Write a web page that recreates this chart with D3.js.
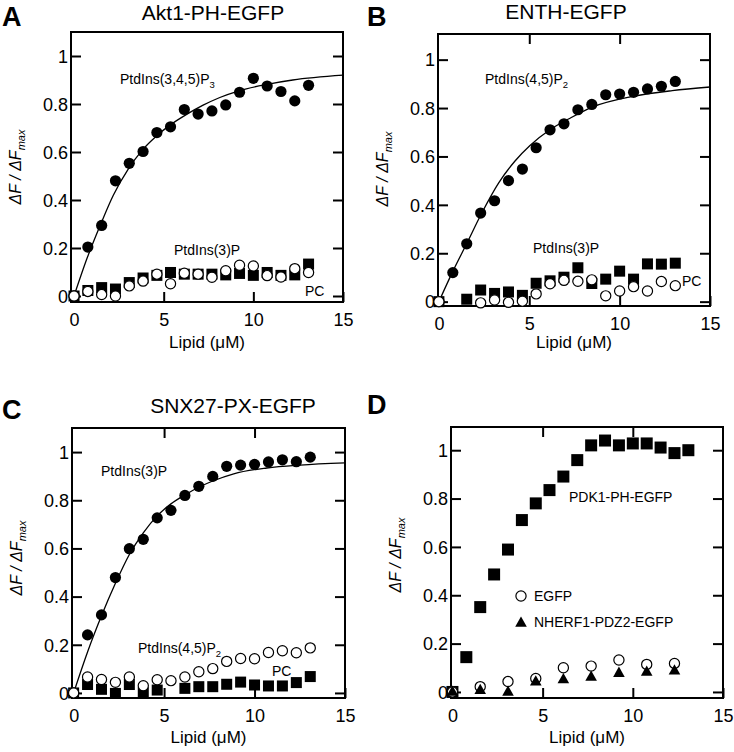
<!DOCTYPE html>
<html><head><meta charset="utf-8">
<script src="https://cdn.jsdelivr.net/npm/d3@7"></script>
<style>
body{margin:0;background:#fff}
svg{display:block}
text{font-family:"Liberation Sans",Arial,Helvetica,sans-serif;fill:#000}
</style>
</head><body>
<svg id="chart" width="734" height="752"></svg>
<script>
// ---------------- data ----------------
const lipidConc = [0,0.77,1.54,2.31,3.08,3.85,4.62,5.38,6.15,6.92,7.69,8.46,9.23,10.0,10.77,11.54,12.31,13.08];
const lipidConcSparse = [0,1.54,3.08,4.62,6.15,7.69,9.23,10.77,12.31];
const xTickValues = [0,5,10,15];
const xTickLabels = ["0","5","10","15"];
const yTickValues = [0,0.2,0.4,0.6,0.8,1];
const yTickLabels = ["0","0.2","0.4","0.6","0.8","1"];

// Panel A: Akt1-PH-EGFP
const aktPIP3 = [0,0.204,0.294,0.48,0.553,0.602,0.681,0.705,0.777,0.758,0.771,0.796,0.849,0.907,0.875,0.852,0.813,0.878];
const aktPI3P = [0,0.023,0.035,0.029,0.056,0.075,0.086,0.098,0.091,0.091,0.091,0.088,0.094,0.086,0.098,0.086,0.088,0.133];
const aktPC   = [0,0.019,0.006,0,0.042,0.062,0.091,0.051,0.095,0.091,0.078,0.105,0.128,0.125,0.085,0.079,0.114,0.098];
const aktFitX = [0,0.74,1.49,2.19,3.03,3.77,4.6,5.35,6.28,7.2,8.13,9.2,10.7,12.2,15];
const aktFitY = [0,0.16,0.3,0.42,0.53,0.605,0.667,0.712,0.757,0.795,0.827,0.855,0.881,0.9,0.92];

// Panel B: ENTH-EGFP
const enthPIP2 = [0,0.12,0.239,0.366,0.417,0.5,0.548,0.636,0.71,0.735,0.793,0.815,0.855,0.858,0.865,0.879,0.89,0.91];
const enthPI3P = [0,null,0.01,0.048,0.034,0.04,0.026,0.076,0.086,0.101,0.14,0.075,0.093,0.126,0.093,0.156,0.155,0.159];
const enthPC   = [0,null,null,-0.005,0.007,-0.003,0.002,0.032,0.074,0.088,0.084,0.09,0.024,0.044,0.062,0.044,0.083,0.066];
const enthFitX = [0,0.77,1.54,2.33,3.3,4.2,5.04,6.14,7.3,8.52,10.71,12.91,15];
const enthFitY = [0,0.125,0.24,0.36,0.49,0.58,0.645,0.71,0.76,0.805,0.848,0.872,0.887];

// Panel C: SNX27-PX-EGFP
const snxPI3P = [0,0.241,0.324,0.479,0.599,0.638,0.727,0.758,0.82,0.858,0.899,0.941,0.946,0.949,0.959,0.968,0.96,0.979];
const snxPIP2 = [0,0.066,0.056,0.044,0.066,0.03,0.055,0.051,0.066,0.088,0.101,0.131,0.143,0.142,0.168,0.175,0.167,0.187];
const snxPC   = [0,0.035,0.015,-0.002,0.035,0.001,0.012,null,0.019,0.026,0.026,0.036,0.045,0.033,0.029,0.029,0.043,0.068];
const snxFitX = [0,0.77,1.54,2.31,3.08,3.85,4.62,5.38,6.15,7.0,7.69,8.85,10.68,12.52,15];
const snxFitY = [0,0.17,0.32,0.455,0.575,0.665,0.735,0.785,0.822,0.857,0.88,0.91,0.934,0.946,0.955];

// Panel D: controls
const pdk1PH = [0,0.144,0.351,0.486,0.589,0.711,0.78,0.835,0.891,0.959,1.02,1.04,1.02,1.028,1.028,1.011,0.988,1.0];
const egfpOnly = [0,0.022,0.043,0.056,0.1,0.107,0.132,0.114,0.118];
const nherfPDZ2 = [0,0.007,0,0.042,0.052,0.062,0.078,0.083,0.088];

// ---------------- drawing ----------------
const svg = d3.select("#chart");
const FONT = '"Liberation Sans",Arial,Helvetica,sans-serif';

function zip(xs, ys){ return xs.map((x,i)=>({x:x,y:ys[i]})).filter(d=>d.y!==null && d.y!==undefined); }

function panel(p){
  const x = d3.scaleLinear().domain(p.xDomain).range([p.left,p.right]);
  const y = d3.scaleLinear().domain(p.yDomain).range([p.bottom,p.top]);
  const g = svg.append("g");

  // axes (inward ticks)
  const ax = g.append("g").attr("transform",`translate(0,${p.bottom})`)
    .call(d3.axisBottom(x).tickValues(xTickValues).tickSize(-10).tickFormat((d,i)=>xTickLabels[i]));
  ax.selectAll("text").attr("y",24).attr("dy",null).style("font-size","18px");
  const ay = g.append("g").attr("transform",`translate(${p.left},0)`)
    .call(d3.axisLeft(y).tickValues(yTickValues).tickSize(-10).tickPadding(3).tickFormat((d,i)=>yTickLabels[i]));
  ay.selectAll("text").attr("dy","0.35em").style("font-size","18px");
  g.append("g").attr("transform",`translate(${p.right},0)`)
    .call(d3.axisRight(y).tickValues(yTickValues).tickSize(-10).tickFormat(""));
  if (p.topTicks) {
    g.append("g").attr("transform",`translate(0,${p.top})`)
      .call(d3.axisTop(x).tickValues([5,10]).tickSize(-10).tickFormat(""));
  }
  g.selectAll(".domain").remove();
  g.selectAll(".tick line").attr("stroke","#000").attr("stroke-width",2);
  g.selectAll(".tick text").attr("fill","#000").style("font-family",FONT);

  // frame
  g.append("rect").attr("x",p.left).attr("y",p.top)
    .attr("width",p.right-p.left).attr("height",p.bottom-p.top)
    .attr("fill","none").attr("stroke","#000").attr("stroke-width",2);

  // axis titles
  g.append("text").attr("x",(p.left+p.right)/2).attr("y",p.xLabelY)
    .attr("text-anchor","middle").style("font-size","17px").text("Lipid (\u03BCM)");
  const yl = g.append("text").attr("transform",`translate(${p.yLabelX},${p.yLabelCY}) rotate(-90)`)
    .attr("text-anchor","middle").style("font-size","16px").style("font-style","italic");
  yl.append("tspan").text("\u0394F / \u0394F");
  yl.append("tspan").attr("dy",4).style("font-size","11px").text("max");

  // panel letter & title
  g.append("text").attr("x",p.letterX).attr("y",p.letterY).style("font-size","27px").style("font-weight","bold").text(p.letter);
  if (p.title) g.append("text").attr("x",p.titleX).attr("y",p.titleY).attr("text-anchor","middle").style("font-size","21px").text(p.title);

  // fit curve
  if (p.fit) {
    g.append("path").datum(p.fit).attr("fill","none").attr("stroke","#000").attr("stroke-width",1.3)
      .attr("d", d3.line().x(d=>x(d.x)).y(d=>y(d.y)).curve(d3.curveMonotoneX));
  }

  // marks
  p.series.forEach(s=>{
    const data = s.data;
    if (s.type==="square") {
      g.append("g").selectAll("rect").data(data).join("rect")
        .attr("x",d=>x(d.x)-s.size/2).attr("y",d=>y(d.y)-s.size/2)
        .attr("width",s.size).attr("height",s.size).attr("fill","#000");
    } else if (s.type==="dot") {
      g.append("g").selectAll("circle").data(data).join("circle")
        .attr("cx",d=>x(d.x)).attr("cy",d=>y(d.y)).attr("r",5.6).attr("fill","#000");
    } else if (s.type==="ring") {
      g.append("g").selectAll("circle").data(data).join("circle")
        .attr("cx",d=>x(d.x)).attr("cy",d=>y(d.y)).attr("r",5.1)
        .attr("fill","#fff").attr("stroke","#000").attr("stroke-width",1.2);
    } else if (s.type==="tri") {
      g.append("g").selectAll("path").data(data).join("path")
        .attr("transform",d=>`translate(${x(d.x)},${y(d.y)})`)
        .attr("d","M0,-6.5L5.8,3.8L-5.8,3.8Z").attr("fill","#000");
    }
  });

  // annotations
  p.labels.forEach(l=>{
    const t = g.append("text").attr("x",l.x).attr("y",l.y).style("font-size","14px");
    t.append("tspan").text(l.text);
    if (l.sub) t.append("tspan").attr("dy",4).style("font-size","9.5px").text(l.sub);
  });
  return {g,x,y};
}

// Panel A
panel({
  left:71,right:343,top:32,bottom:302,xDomain:[-0.17,15],yDomain:[-0.025,1.1],topTicks:false,
  xLabelY:348,yLabelX:21,yLabelCY:167,letter:"A",letterX:2,letterY:26,title:"Akt1-PH-EGFP",titleX:213,titleY:20,
  fit: zip(aktFitX,aktFitY),
  series:[
    {type:"square",size:11,data:zip(lipidConc,aktPI3P)},
    {type:"dot",data:zip(lipidConc,aktPIP3)},
    {type:"ring",data:zip(lipidConc,aktPC)}
  ],
  labels:[
    {x:120,y:84,text:"PtdIns(3,4,5)P",sub:"3"},
    {x:174,y:255,text:"PtdIns(3)P"},
    {x:305,y:296,text:"PC"}
  ]
});

// Panel B
panel({
  left:438,right:710,top:34,bottom:306,xDomain:[-0.05,15],yDomain:[-0.018,1.106],topTicks:true,
  xLabelY:348,yLabelX:388,yLabelCY:169,letter:"B",letterX:367,letterY:26,title:"ENTH-EGFP",titleX:566,titleY:19,
  fit: zip(enthFitX,enthFitY),
  series:[
    {type:"square",size:11,data:zip(lipidConc,enthPI3P)},
    {type:"dot",data:zip(lipidConc,enthPIP2)},
    {type:"ring",data:zip(lipidConc,enthPC)}
  ],
  labels:[
    {x:485,y:84,text:"PtdIns(4,5)P",sub:"2"},
    {x:533,y:253,text:"PtdIns(3)P"},
    {x:682,y:286,text:"PC"}
  ]
});

// Panel C
panel({
  left:72,right:345,top:428,bottom:698,xDomain:[-0.09,15],yDomain:[-0.021,1.1],topTicks:true,
  xLabelY:743,yLabelX:22,yLabelCY:558,letter:"C",letterX:2,letterY:419,title:"SNX27-PX-EGFP",titleX:233,titleY:413,
  fit: zip(snxFitX,snxFitY),
  series:[
    {type:"square",size:11,data:zip(lipidConc,snxPC)},
    {type:"dot",data:zip(lipidConc,snxPI3P)},
    {type:"ring",data:zip(lipidConc,snxPIP2)}
  ],
  labels:[
    {x:101,y:476,text:"PtdIns(3)P"},
    {x:138,y:653,text:"PtdIns(4,5)P",sub:"2"},
    {x:272,y:676,text:"PC"}
  ]
});

// Panel D
const pd = panel({
  left:451,right:723,top:427,bottom:698,xDomain:[-0.08,15],yDomain:[-0.025,1.096],topTicks:true,
  xLabelY:743,yLabelX:401,yLabelCY:555,letter:"D",letterX:367,letterY:414,title:null,
  fit:null,
  series:[
    {type:"square",size:12,data:zip(lipidConc,pdk1PH)},
    {type:"ring",data:zip(lipidConcSparse,egfpOnly)},
    {type:"tri",data:zip(lipidConcSparse,nherfPDZ2)}
  ],
  labels:[
    {x:569,y:502,text:"PDK1-PH-EGFP"},
    {x:534,y:601,text:"EGFP"},
    {x:534,y:627,text:"NHERF1-PDZ2-EGFP"}
  ]
});
// legend symbols in panel D
pd.g.append("circle").attr("cx",521).attr("cy",596).attr("r",5.1).attr("fill","#fff").attr("stroke","#000").attr("stroke-width",1.2);
pd.g.append("path").attr("transform","translate(521,623)").attr("d","M0,-6.5L5.8,3.8L-5.8,3.8Z").attr("fill","#000");
</script>
</body></html>
